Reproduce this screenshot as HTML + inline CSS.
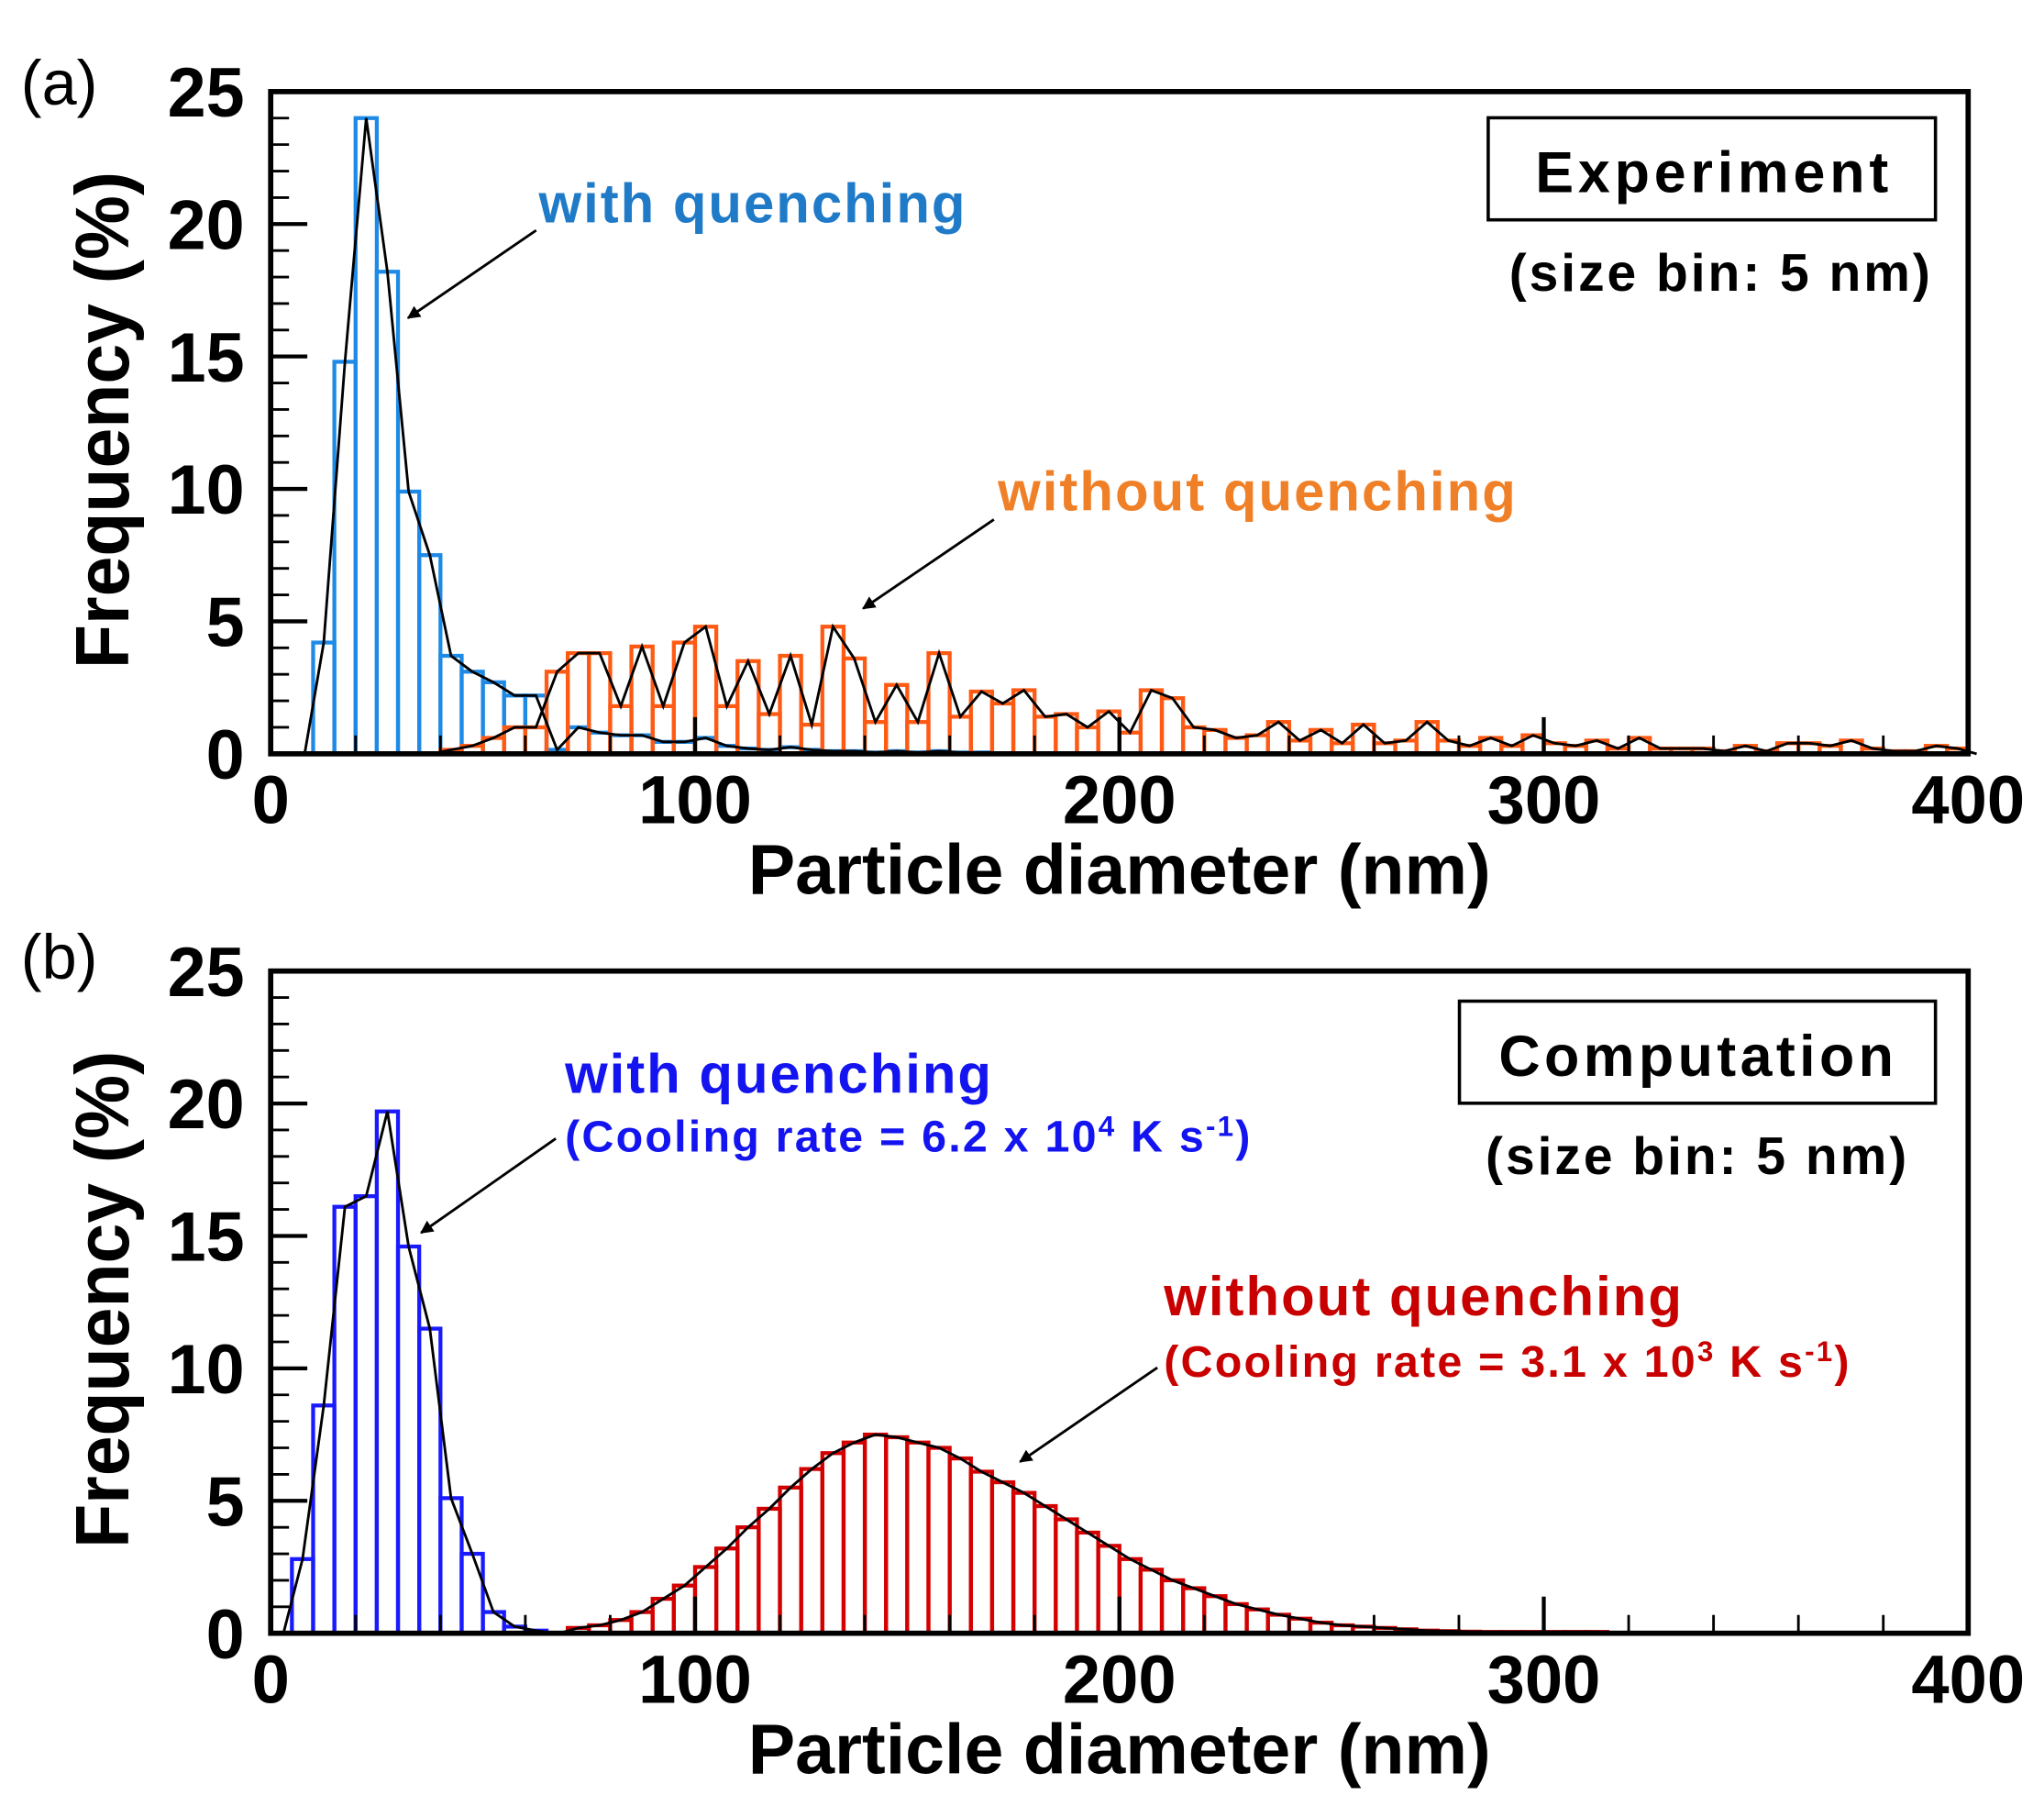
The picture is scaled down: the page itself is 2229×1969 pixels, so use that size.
<!DOCTYPE html>
<html><head><meta charset="utf-8"><style>
html,body{margin:0;padding:0;background:#fff;}
svg{display:block;}
text{font-family:"Liberation Sans",Arial,sans-serif;}
</style></head><body>
<svg id="s" width="2229" height="1969" viewBox="0 0 1563 1380" preserveAspectRatio="none" xmlns="http://www.w3.org/2000/svg">
<defs><marker id="ar" markerWidth="10" markerHeight="10" refX="9" refY="5" orient="auto" markerUnits="userSpaceOnUse"><path d="M0,0 L10,5 L0,10 z" fill="#000"/></marker></defs>
<g id="g"></g>
<text x="16" y="80" font-size="48">(a)</text>
<text x="16" y="748" font-size="48">(b)</text>
<text x="412" y="170" font-size="42" font-weight="bold" fill="#1f7ac8" textLength="326">with quenching</text>
<line x1="410" y1="176" x2="312" y2="243" stroke="#000" stroke-width="2" marker-end="url(#ar)"/>
<text x="763" y="390" font-size="42" font-weight="bold" fill="#f08028" textLength="396">without quenching</text>
<line x1="760" y1="397" x2="660" y2="465" stroke="#000" stroke-width="2" marker-end="url(#ar)"/>
<rect x="1138" y="90" width="342" height="78" fill="none" stroke="#000" stroke-width="2.5"/>
<text x="1309" y="147" font-size="44" font-weight="bold" text-anchor="middle" textLength="270">Experiment</text>
<text x="1315" y="222" font-size="40" text-anchor="middle" textLength="322" style="font-weight:bold">(size bin: 5 nm)</text>
<text x="432" y="835" font-size="42" font-weight="bold" fill="#1414f0" textLength="326">with quenching</text>
<text x="432" y="880" font-size="34" font-weight="bold" fill="#1414f0" textLength="524">(Cooling rate = 6.2 x 10<tspan font-size="22" dy="-12">4</tspan><tspan dy="12"> K s</tspan><tspan font-size="22" dy="-12">-1</tspan><tspan dy="12">)</tspan></text>
<line x1="425" y1="870" x2="322" y2="942" stroke="#000" stroke-width="2" marker-end="url(#ar)"/>
<text x="890" y="1005" font-size="42" font-weight="bold" fill="#c80000" textLength="396">without quenching</text>
<text x="890" y="1052" font-size="34" font-weight="bold" fill="#c80000" textLength="524">(Cooling rate = 3.1 x 10<tspan font-size="22" dy="-12">3</tspan><tspan dy="12"> K s</tspan><tspan font-size="22" dy="-12">-1</tspan><tspan dy="12">)</tspan></text>
<line x1="885" y1="1045" x2="780" y2="1117" stroke="#000" stroke-width="2" marker-end="url(#ar)"/>
<rect x="1116" y="765" width="364" height="78" fill="none" stroke="#000" stroke-width="2.5"/>
<text x="1297" y="822" font-size="44" font-weight="bold" text-anchor="middle" textLength="302">Computation</text>
<text x="1297" y="897" font-size="40" text-anchor="middle" textLength="322" style="font-weight:bold">(size bin: 5 nm)</text>
</svg>
<script>
var NS="http://www.w3.org/2000/svg",g=document.getElementById("g");
function el(t,a,txt){var e=document.createElementNS(NS,t);for(var k in a)e.setAttribute(k,a[k]);if(txt!=null)e.textContent=txt;g.appendChild(e);return e;}
var X0=207,X1=1505,sx=(X1-X0)/400;
function panel(top,series){
 var bot=top+506,sy=506/25;
 function X(v){return X0+v*sx;} function Y(v){return bot-v*sy;}
 series.forEach(function(s){
  s.d.forEach(function(v,i){var a=s.start+5*i;if(v<=0)return;
   el("rect",{x:X(a),y:Y(v),width:5*sx,height:v*sy,fill:"none",stroke:s.c,"stroke-width":3});});
 });
 series.forEach(function(s){
  var pts=[[X(s.start-2),bot]];
  s.d.forEach(function(v,i){pts.push([X(s.start+5*i+2.5),Y(v)]);});
  pts.push([X(s.start+5*s.d.length+2),bot]);
  el("polyline",{points:pts.map(function(p){return p.join(",")}).join(" "),fill:"none",stroke:"#000","stroke-width":2});
 });
 for(var v=0;v<=25;v++){var L=v%5==0?28:14;el("line",{x1:X0,y1:Y(v),x2:X0+L,y2:Y(v),stroke:"#000","stroke-width":v%5==0?3:2});}
 for(var v=0;v<=400;v+=20){var L=v%100==0?28:14;el("line",{x1:X(v),y1:bot,x2:X(v),y2:bot-L,stroke:"#000","stroke-width":v%100==0?3:2});}
 el("rect",{x:X0,y:top,width:X1-X0,height:506,fill:"none",stroke:"#000","stroke-width":4});
 for(var v=0;v<=25;v+=5)el("text",{x:187,y:Y(v)+19,"font-size":53,"font-weight":"bold","text-anchor":"end"},String(v));
 for(var v=0;v<=400;v+=100)el("text",{x:X(v),y:bot+53,"font-size":52,"font-weight":"bold","text-anchor":"middle"},String(v));
 el("text",{x:856,y:bot+107,"font-size":54,"font-weight":"bold","text-anchor":"middle",textLength:568,lengthAdjust:"spacingAndGlyphs"},"Particle diameter (nm)");
 var cy=(top+bot)/2-2;
 el("text",{x:0,y:0,"font-size":58,"font-weight":"bold","text-anchor":"middle",textLength:380,lengthAdjust:"spacingAndGlyphs",transform:"translate(98,"+cy+") rotate(-90)"},"Frequency (%)");
}
var aBlue=[4.2,14.8,24,18.2,9.9,7.5,3.7,3.1,2.7,2.2,2.2,0.15,1.0,0.8,0.7,0.7,0.45,0.45,0.6,0.3,0.2,0.15,0.25,0.15,0.1,0.1,0.05,0.1,0.05,0.1,0.05,0.05];
var aOr=[0.15,0.3,0.6,1.0,1.0,3.1,3.8,3.8,1.8,4.05,1.8,4.2,4.8,1.8,3.5,1.5,3.7,1.1,4.8,3.6,1.2,2.6,1.2,3.8,1.4,2.35,1.9,2.4,1.4,1.5,1.0,1.6,0.8,2.4,2.1,1.0,0.9,0.6,0.7,1.2,0.5,0.9,0.4,1.1,0.4,0.5,1.2,0.5,0.3,0.6,0.3,0.7,0.4,0.3,0.5,0.2,0.6,0.2,0.2,0.2,0.1,0.3,0.1,0.4,0.4,0.3,0.5,0.2,0.1,0.1,0.3,0.2];
panel(70,[{start:10,d:aBlue,c:"#1e8ae6"},{start:40,d:aOr,c:"#ff5a14"}]);
var bBlue=[2.8,8.6,16.1,16.5,19.7,14.6,11.5,5.1,3.0,0.8,0.25,0.1];
var bRed=[0.2,0.3,0.5,0.8,1.3,1.8,2.5,3.2,4.0,4.7,5.5,6.2,6.8,7.2,7.5,7.4,7.2,7.0,6.6,6.1,5.7,5.3,4.8,4.3,3.8,3.3,2.8,2.4,2.0,1.7,1.4,1.1,0.9,0.7,0.55,0.4,0.3,0.25,0.2,0.15,0.1,0.08,0.06,0.05,0.05,0.05,0.05,0.05,0.05];
panel(742,[{start:5,d:bBlue,c:"#1a1aff"},{start:70,d:bRed,c:"#d40000"}]);
</script>
</body></html>
